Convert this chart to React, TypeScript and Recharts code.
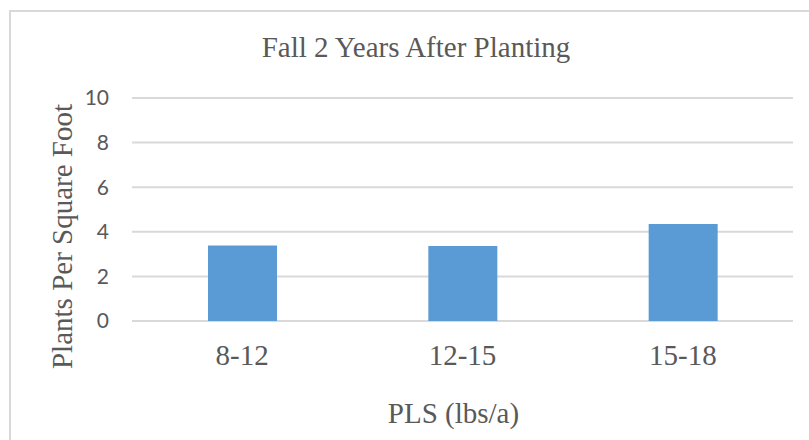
import React from "react";
import { BarChart, Bar, XAxis, YAxis, CartesianGrid } from "recharts";

const categories = ["8-12", "12-15", "15-18"];
const plantsPerSqFt = [3.39, 3.36, 4.35];
const yTicks = [0, 2, 4, 6, 8, 10];

const data = categories.map((pls, i) => ({ pls, plants: plantsPerSqFt[i] }));

const SERIF = '"Liberation Serif", "Times New Roman", serif';
const SANS = 'Lato, "Liberation Sans", sans-serif';
const TEXT = "#595959";
const LINE = "#d9d9d9";

export default function App() {
  return (
    <div
      style={{
        position: "absolute",
        left: 0,
        top: 0,
        width: 809,
        height: 440,
        overflow: "hidden",
        background: "#fff",
      }}
    >
      {/* chart frame, runs off the right and bottom edges */}
      <div
        style={{
          position: "absolute",
          left: 9,
          top: 10,
          width: 840,
          height: 480,
          border: `2px solid ${LINE}`,
        }}
      />
      <div
        style={{
          position: "absolute",
          left: 0,
          top: 33,
          width: 832,
          textAlign: "center",
          fontFamily: SERIF,
          fontSize: 29,
          lineHeight: 1,
          color: TEXT,
          whiteSpace: "nowrap",
        }}
      >
        Fall 2 Years After Planting
      </div>
      <div style={{ position: "absolute", left: 0, top: 0 }}>
        <BarChart
          width={809}
          height={440}
          data={data}
          margin={{ top: 98, right: 16, bottom: 59, left: 12 }}
        >
          <CartesianGrid stroke={LINE} strokeWidth={2} vertical={false} />
          <XAxis
            dataKey="pls"
            height={60}
            axisLine={false}
            tickLine={false}
            tickSize={0}
            tickMargin={23}
            tick={{ fill: TEXT, fontSize: 29, fontFamily: SERIF }}
            label={{
              content: (props: any) => {
                const vb = props.viewBox || {};
                return (
                  <text
                    x={vb.x + vb.width / 2 - 9}
                    y={423}
                    textAnchor="middle"
                    fill={TEXT}
                    fontFamily={SERIF}
                    fontSize={29}
                  >
                    PLS (lbs/a)
                  </text>
                );
              },
            }}
          />
          <YAxis
            width={120}
            domain={[0, 10]}
            ticks={yTicks}
            axisLine={false}
            tickLine={false}
            tickSize={0}
            tickMargin={23}
            tick={{ fill: TEXT, fontSize: 21, fontFamily: SANS }}
            label={{
              content: (props: any) => {
                const vb = props.viewBox || {};
                const bx = vb.x + 60;
                const cy = vb.y + vb.height / 2 + 27;
                return (
                  <text
                    x={bx}
                    y={cy}
                    transform={`rotate(-90, ${bx}, ${cy})`}
                    textAnchor="middle"
                    fill={TEXT}
                    fontFamily={SERIF}
                    fontSize={29}
                  >
                    Plants Per Square Foot
                  </text>
                );
              },
            }}
          />
          <Bar dataKey="plants" fill="#5b9bd5" barSize={69} isAnimationActive={false} />
        </BarChart>
      </div>
    </div>
  );
}
